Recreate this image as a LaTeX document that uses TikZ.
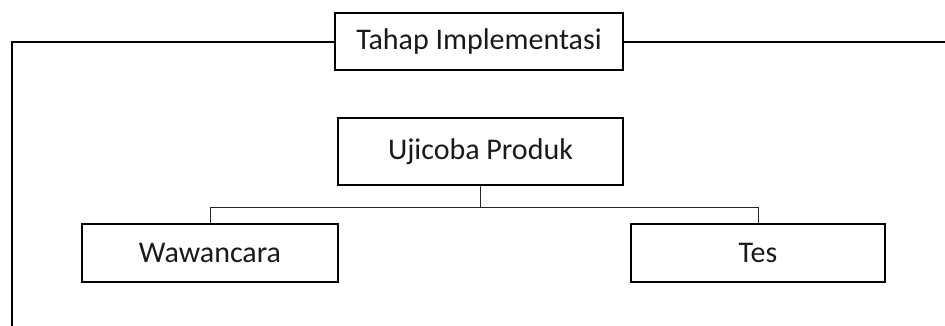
\documentclass[tikz,border=0pt]{standalone}
\usepackage{fontspec}
\setmainfont{Carlito}
\begin{document}
\begin{tikzpicture}[x=1pt,y=1pt,
  box/.style={draw=black, line width=2pt, minimum height=58pt, inner sep=0pt,
    font=\fontsize{30}{35}\selectfont, text=black!90},
  frame/.style={draw=black, line width=2pt},
  conn/.style={draw=black!85, line width=1pt}]
  \useasboundingbox (0,0) rectangle (945,-326);
  % stage heading and the steps below it
  \node[box, minimum width=288pt, minimum height=57pt] (stage) at (479,-42) {Tahap Implementasi};
  \node[box, minimum width=285pt, minimum height=66pt] (uji) at (480.5,-151.5) {Ujicoba Produk};
  \node[box, minimum width=256pt] (waw) at (210,-253) {Wawancara};
  \node[box, minimum width=254pt] (tes) at (758,-253) {Tes};
  % enclosing bracket around the stage
  \coordinate (fbot) at (12,-330);
  \coordinate (fright) at (950,0);
  \draw[frame] (fbot) |- (stage.west);
  \draw[frame] (stage.east) -- (stage.east -| fright);
  % branching connectors
  \coordinate (busy) at (0,-207);
  \coordinate (junc) at (uji.south |- busy);
  \draw[conn] (uji.south) -- (junc) -| (waw.north);
  \draw[conn] (junc) -| (tes.north);
\end{tikzpicture}
\end{document}
